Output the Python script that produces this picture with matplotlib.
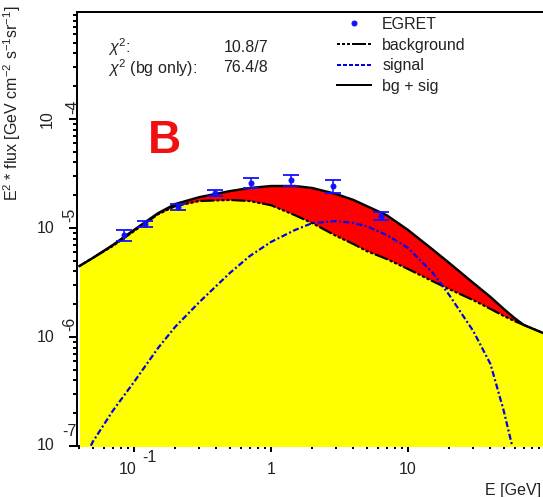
import matplotlib
matplotlib.use('Agg')
import matplotlib.pyplot as plt
from matplotlib.lines import Line2D
from matplotlib.ticker import FixedLocator, LogLocator, NullFormatter

plt.rcParams['font.family'] = ['Liberation Sans', 'DejaVu Sans']
plt.rcParams['mathtext.fontset'] = 'custom'
plt.rcParams['mathtext.rm'] = 'Liberation Sans'
plt.rcParams['mathtext.it'] = 'Liberation Sans:italic'
plt.rcParams['lines.scale_dashes'] = False

# curves (E in GeV, E^2 * flux)
energy = [0.04, 0.05, 0.07, 0.1, 0.15, 0.2, 0.3, 0.5, 0.7, 1, 1.5, 2, 3, 4, 5,
          7, 10, 15, 20, 30, 40, 50, 60, 70, 100]
background = [4.48e-6, 5.31e-6, 6.84e-6, 9.37e-6, 1.34e-5, 1.59e-5, 1.77e-5,
              1.81e-5, 1.77e-5, 1.62e-5, 1.31e-5, 1.11e-5, 8.45e-6, 7.13e-6,
              6.15e-6, 5.20e-6, 4.21e-6, 3.27e-6, 2.75e-6, 2.18e-6, 1.81e-6,
              1.56e-6, 1.40e-6, 1.29e-6, 1.07e-6]
signal = [6.15e-8, 1.09e-7, 2.10e-7, 3.86e-7, 7.93e-7, 1.24e-6, 2.09e-6,
          3.86e-6, 5.53e-6, 7.45e-6, 9.60e-6, 1.11e-5, 1.16e-5, 1.11e-5,
          1.04e-5, 8.63e-6, 6.56e-6, 3.94e-6, 2.43e-6, 1.13e-6, 5.65e-7,
          2.10e-7, 8.1e-8, 2.5e-8, 1e-9]
bg_sig = [4.48e-6, 5.31e-6, 6.98e-6, 9.60e-6, 1.37e-5, 1.66e-5, 1.92e-5,
          2.18e-5, 2.33e-5, 2.43e-5, 2.43e-5, 2.33e-5, 2.05e-5, 1.81e-5,
          1.59e-5, 1.31e-5, 9.60e-6, 6.41e-6, 4.78e-6, 3.13e-6, 2.33e-6,
          1.81e-6, 1.49e-6, 1.29e-6, 1.07e-6]

# EGRET points
egret_e = [0.085, 0.12, 0.21, 0.39, 0.71, 1.41, 2.83, 6.32]
egret_flux = [8.63e-6, 1.09e-5, 1.56e-5, 2.10e-5, 2.59e-5, 2.75e-5, 2.43e-5, 1.29e-5]
egret_err = [0.95e-6, 0.75e-6, 1.1e-6, 1.5e-6, 2.8e-6, 3.0e-6, 3.2e-6, 1.0e-6]

ydecades = [1e-7, 1e-6, 1e-5, 1e-4]
ydec_exp = ['-7', '-6', '-5', '-4']

W, H = 543, 497
fs = 16


def fx(x):
    return x / W


def fy(y):
    return 1 - y / H


def main():
    fig = plt.figure(figsize=(W / 72, H / 72), dpi=72)
    ax = fig.add_axes([fx(77), fy(446), (545 - 77) / W, (446 - 12) / H])
    ax.set_xscale('log')
    ax.set_yscale('log')
    ax.set_xlim(0.0384, 100)
    ax.set_ylim(1e-7, 9.6e-4)

    ax.fill_between(energy, 1e-9, background, color='#ffff00', lw=0, zorder=2.6)
    ax.fill_between(energy, background, bg_sig, color='#ff0000', lw=0, zorder=2.6)

    bg_dash = (0, (3, 2, 3, 2, 3, 2, 14, 2))
    sig_dash = (0, (6, 2.5, 2, 2.5))
    ax.plot(energy, background, color='black', lw=2.2, ls=bg_dash, zorder=3)
    ax.plot(energy, signal, color='#0000ee', lw=2.2, ls=sig_dash, zorder=3)
    ax.plot(energy, bg_sig, color='black', lw=2.4, zorder=3)

    eb = ax.errorbar(egret_e, egret_flux, yerr=egret_err, fmt='o', color='#1010ff',
                     ms=5, ecolor='#1010ff', elinewidth=1.6, capsize=8, capthick=1.8,
                     zorder=4)
    for cap in eb[1]:
        cap.set_color('black')

    # axes and ticks, ROOT look
    for side in ['left', 'top', 'bottom', 'right']:
        ax.spines[side].set_linewidth(2)
    ax.xaxis.set_major_locator(FixedLocator([0.1, 1, 10]))
    ax.xaxis.set_minor_locator(LogLocator(base=10, subs=range(2, 10), numticks=20))
    ax.yaxis.set_major_locator(FixedLocator(ydecades))
    ax.yaxis.set_minor_locator(LogLocator(base=10, subs=range(2, 10), numticks=20))
    for axis in [ax.xaxis, ax.yaxis]:
        axis.set_major_formatter(NullFormatter())
        axis.set_minor_formatter(NullFormatter())
    ax.tick_params(axis='x', which='major', direction='out', length=6, width=2)
    ax.tick_params(axis='x', which='minor', direction='out', length=3, width=2)
    ax.tick_params(axis='y', which='major', direction='out', length=8, width=2)
    ax.tick_params(axis='y', which='minor', direction='out', length=4, width=2)

    tc = '#222222'
    ytr = ax.get_yaxis_transform()
    for val, ex in zip(ydecades, ydec_exp):
        if ex == '-4':
            ax.annotate('10', (0, val), xycoords=ytr, xytext=(-30, 0), textcoords='offset points',
                        ha='center', va='center', rotation=90, fontsize=fs, color=tc)
            ax.annotate(ex, (0, val), xycoords=ytr, xytext=(-4, 12), textcoords='offset points',
                        ha='center', va='center', rotation=90, fontsize=fs, color=tc)
        elif ex == '-7':
            ax.annotate('10', (0, val), xycoords=ytr, xytext=(-31, 0), textcoords='offset points',
                        ha='center', va='center', fontsize=fs, color=tc)
            ax.annotate(ex, (0, val), xycoords=ytr, xytext=(-8, 15), textcoords='offset points',
                        ha='center', va='center', fontsize=fs, color=tc)
        else:
            ax.annotate('10', (0, val), xycoords=ytr, xytext=(-31, 0), textcoords='offset points',
                        ha='center', va='center', fontsize=fs, color=tc)
            ax.annotate(ex, (0, val), xycoords=ytr, xytext=(-7, 13), textcoords='offset points',
                        ha='center', va='center', rotation=90, fontsize=fs, color=tc)

    xtr = ax.get_xaxis_transform()
    ax.annotate('10', (0.1, 0), xycoords=xtr, xytext=(-6, -24), textcoords='offset points',
                ha='center', va='center', fontsize=fs, color=tc)
    ax.annotate('-1', (0.1, 0), xycoords=xtr, xytext=(15, -12), textcoords='offset points',
                ha='center', va='center', fontsize=fs, color=tc)
    ax.annotate('1', (1, 0), xycoords=xtr, xytext=(0, -24), textcoords='offset points',
                ha='center', va='center', fontsize=fs, color=tc)
    ax.annotate('10', (10, 0), xycoords=xtr, xytext=(0, -24), textcoords='offset points',
                ha='center', va='center', fontsize=fs, color=tc)

    fig.text(fx(541), fy(490), 'E [GeV]', ha='right', va='center', fontsize=fs, color=tc)
    fig.text(fx(12), fy(6), r'E$^{2}$ * flux [GeV cm$^{-2}$ s$^{-1}$sr$^{-1}$]',
             rotation=90, ha='center', va='top', fontsize=fs, color=tc)

    # chi2 box
    fig.text(fx(108), fy(47), r'$\chi^{2}$:', va='center', fontsize=fs, color=tc)
    fig.text(fx(268), fy(47), '10.8/7', ha='right', va='center', fontsize=fs, color=tc)
    fig.text(fx(108), fy(68), r'$\chi^{2}$ (bg only):', va='center', fontsize=fs, color=tc)
    fig.text(fx(268), fy(68), '76.4/8', ha='right', va='center', fontsize=fs, color=tc)

    fig.text(fx(148), fy(141), 'B', color='#f01010', fontsize=46, fontweight='bold',
             ha='left', va='center')

    handles = [
        Line2D([], [], ls='none', marker='o', ms=5, color='#1010ff'),
        Line2D([], [], color='black', lw=2, ls=(0, (3, 2, 3, 2, 3, 2, 14, 2))),
        Line2D([], [], color='#0000ee', lw=2, ls=(0, (4, 2))),
        Line2D([], [], color='black', lw=2),
    ]
    labels = ['EGRET', 'background', 'signal', 'bg + sig']
    leg = fig.legend(handles, labels, loc='upper left', bbox_to_anchor=(fx(337), fy(17)),
                     frameon=False, fontsize=fs, handlelength=34 / fs, handletextpad=0.7,
                     labelspacing=0.35, borderpad=0, borderaxespad=0)
    for t in leg.get_texts():
        t.set_color(tc)

    fig.savefig('out.png', dpi=72)


if __name__ == '__main__':
    main()
